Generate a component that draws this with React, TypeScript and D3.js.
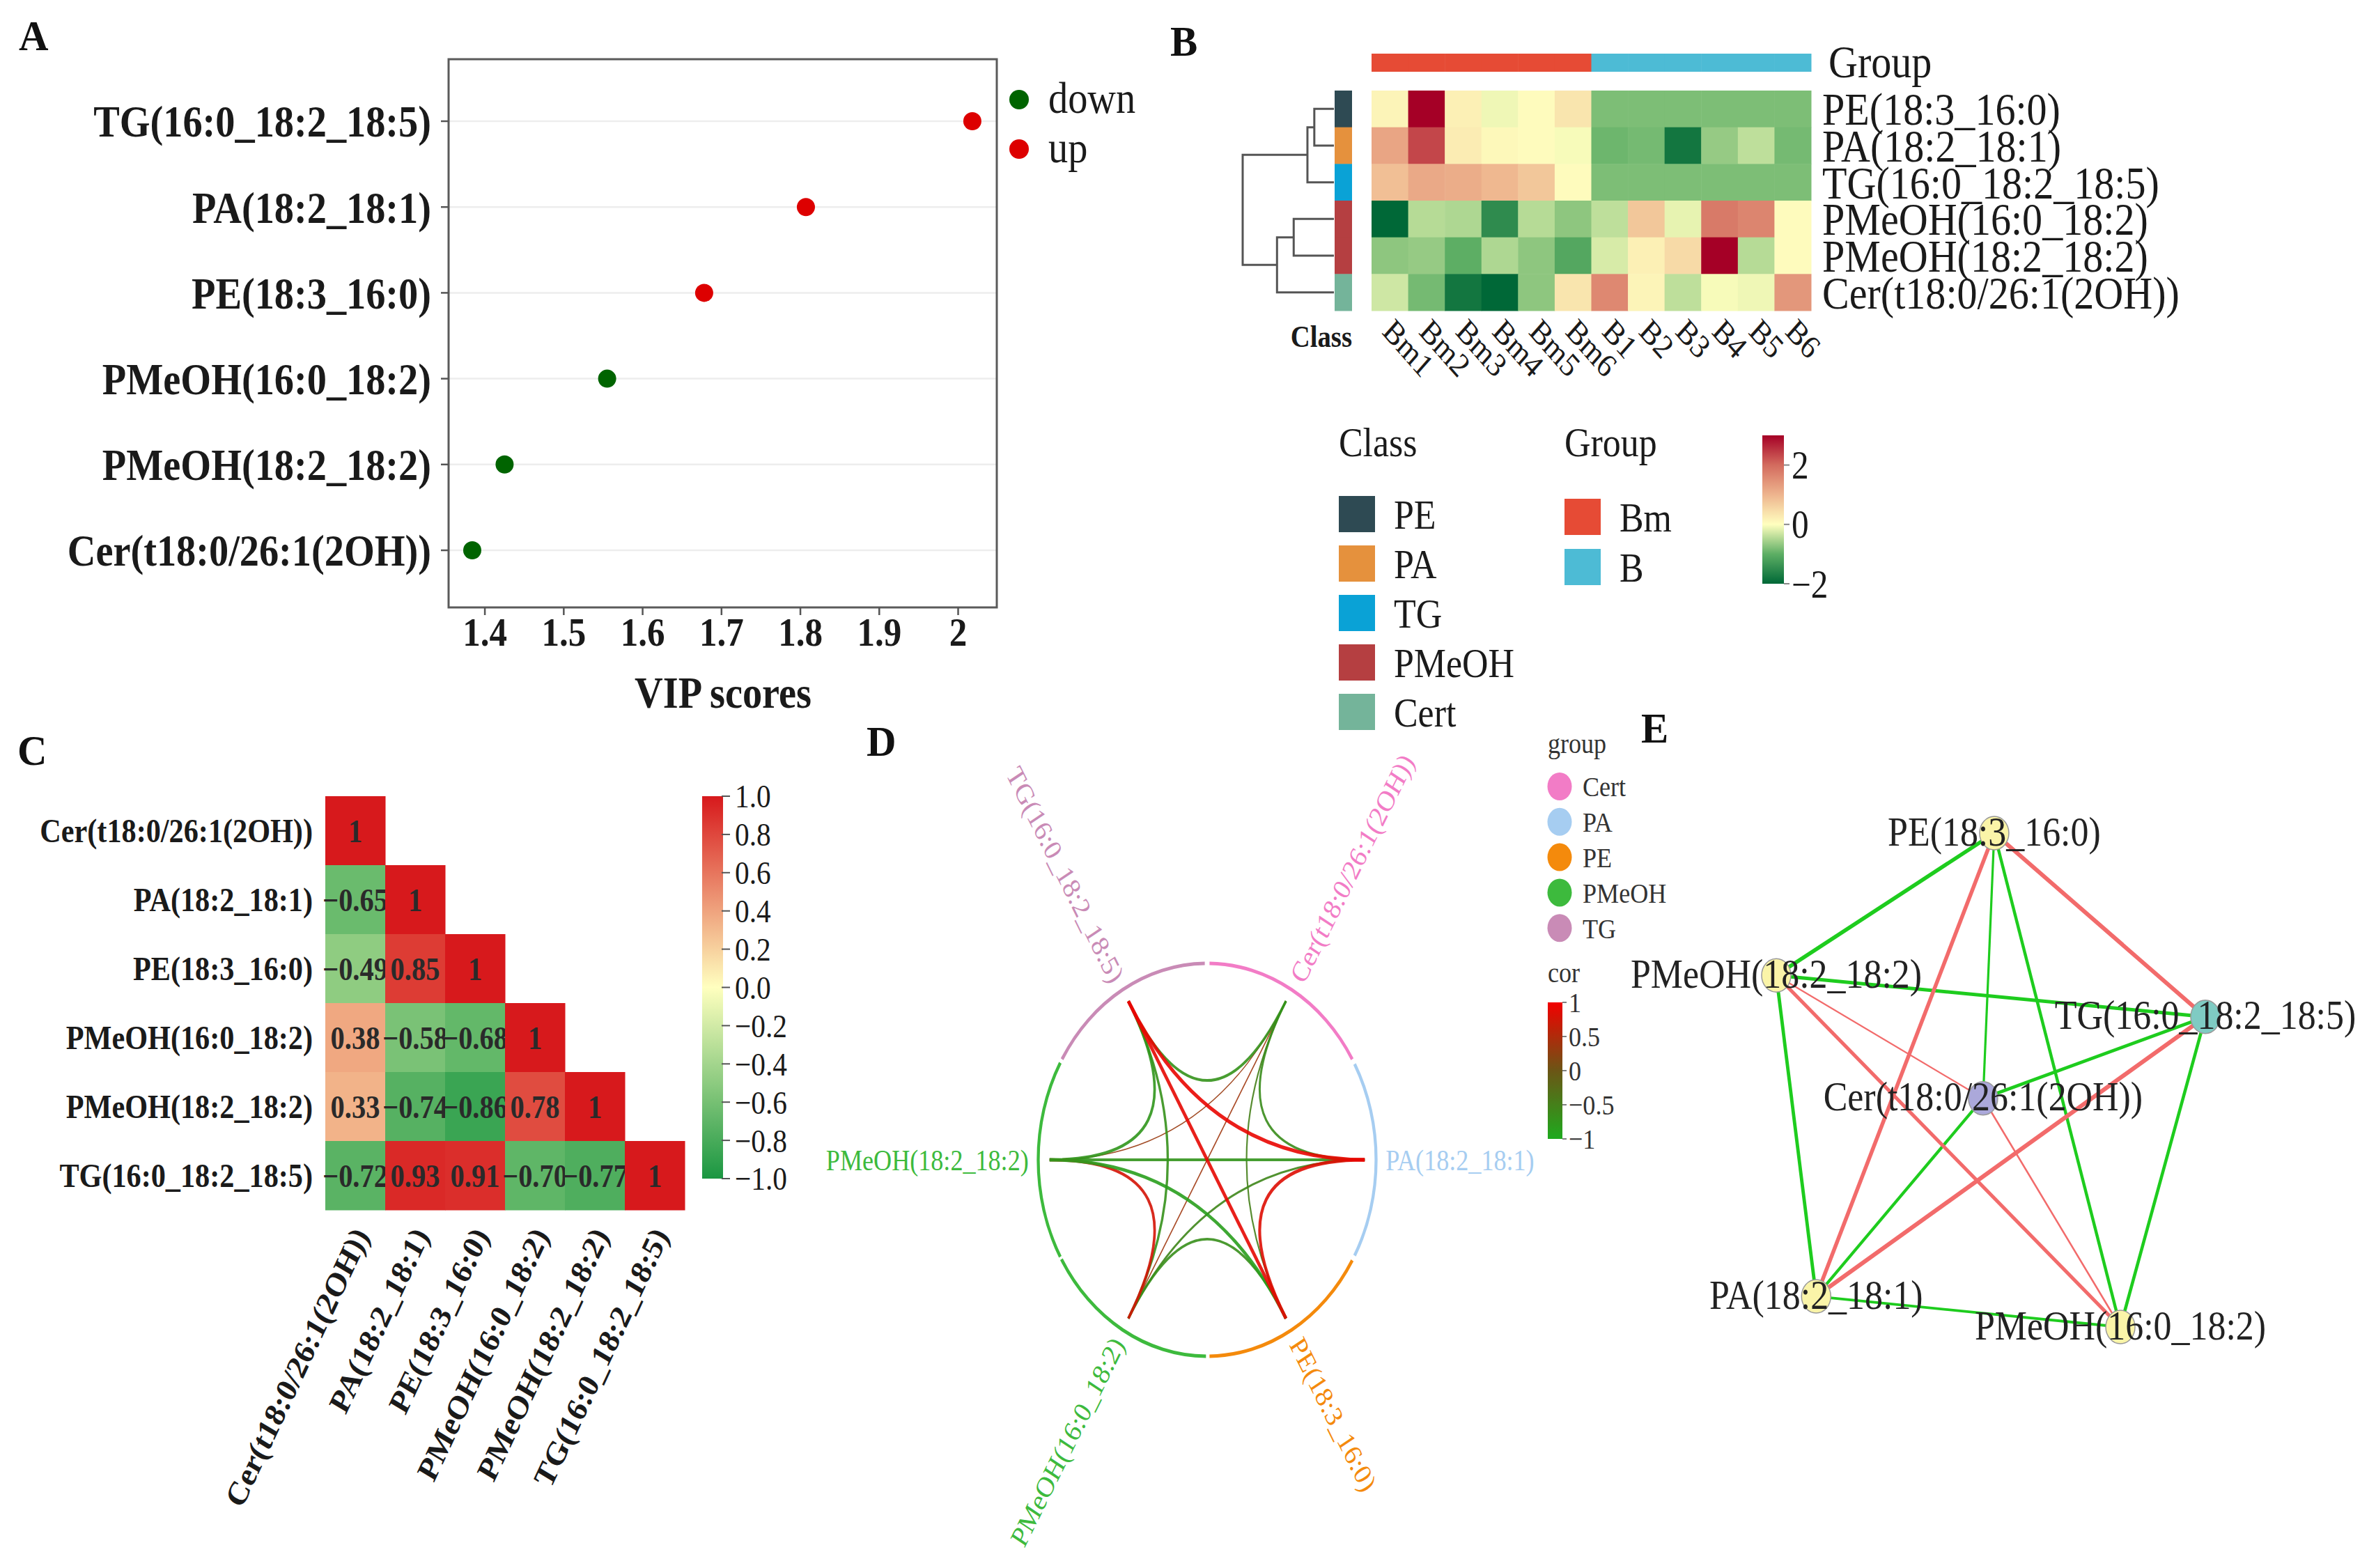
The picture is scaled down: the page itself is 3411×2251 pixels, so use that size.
import React from "react";
import * as d3 from "d3";

const FONT = '"Liberation Serif", "Times New Roman", Times, serif';
const SX = 0.88;

// ---------- Panel A: VIP scores ----------
const vipNames = ["TG(16:0_18:2_18:5)", "PA(18:2_18:1)", "PE(18:3_16:0)", "PMeOH(16:0_18:2)", "PMeOH(18:2_18:2)", "Cer(t18:0/26:1(2OH))"];
const vipScores = [2.018, 1.807, 1.678, 1.555, 1.425, 1.384];
const vipDirection = ["up", "up", "up", "down", "down", "down"];
const vipTicks = [1.4, 1.5, 1.6, 1.7, 1.8, 1.9, 2.0];
const vipLegend = ["down", "up"];
const vipColors = { down: "#006400", up: "#DD0000" } as Record<string, string>;

// ---------- Panel B: heatmap ----------
const heatRows = ["PE(18:3_16:0)", "PA(18:2_18:1)", "TG(16:0_18:2_18:5)", "PMeOH(16:0_18:2)", "PMeOH(18:2_18:2)", "Cer(t18:0/26:1(2OH))"];
const heatRowClass = ["PE", "PA", "TG", "PMeOH", "PMeOH", "Cert"];
const heatSamples = ["Bm1", "Bm2", "Bm3", "Bm4", "Bm5", "Bm6", "B1", "B2", "B3", "B4", "B5", "B6"];
const heatSampleGroup = ["Bm", "Bm", "Bm", "Bm", "Bm", "Bm", "B", "B", "B", "B", "B", "B"];
const zPE = [0.15, 3.0, 0.2, -0.1, 0.05, 0.35, -0.8, -0.8, -0.8, -0.8, -0.8, -0.8];
const zPA = [1.2, 2.35, 0.25, 0.1, 0.05, -0.05, -0.9, -0.85, -1.8, -0.65, -0.4, -0.85];
const zTG = [0.85, 1.15, 1.1, 0.95, 0.75, 0.05, -0.8, -0.8, -0.8, -0.8, -0.8, -0.8];
const zPMeOH16 = [-2.1, -0.45, -0.5, -1.5, -0.45, -0.7, -0.4, 0.75, -0.15, 1.8, 1.65, 0.05];
const zPMeOH18 = [-0.7, -0.65, -1.0, -0.5, -0.7, -1.1, -0.25, 0.2, 0.5, 3.0, -0.45, 0.05];
const zCer = [-0.3, -0.85, -1.8, -2.0, -0.7, 0.35, 1.6, 0.15, -0.4, -0.05, -0.1, 1.4];
const heatValues = [zPE, zPA, zTG, zPMeOH16, zPMeOH18, zCer];
const classNames = ["PE", "PA", "TG", "PMeOH", "Cert"];
const classColors = ["#2E4A53", "#E5913D", "#0AA2D6", "#B53F41", "#74B49A"];
const groupNames = ["Bm", "B"];
const groupColors = ["#E64B35", "#4DBBD5"];
const heatTicks = [2, 0, -2];
const heatTickLabels = ["2", "0", "\u22122"];
const dendroA = ["r0", "m0", "r3", "m2", "m1"];
const dendroB = ["r1", "r2", "r4", "r5", "m3"];
const dendroH = [1.0, 1.35, 2.05, 2.9, 4.65];

// ---------- Panel C: correlation ----------
const corNames = ["Cer(t18:0/26:1(2OH))", "PA(18:2_18:1)", "PE(18:3_16:0)", "PMeOH(16:0_18:2)", "PMeOH(18:2_18:2)", "TG(16:0_18:2_18:5)"];
const corCer = [1];
const corPA = [-0.65, 1];
const corPE = [-0.49, 0.85, 1];
const corPM16 = [0.38, -0.58, -0.68, 1];
const corPM18 = [0.33, -0.74, -0.86, 0.78, 1];
const corTG = [-0.72, 0.93, 0.91, -0.7, -0.77, 1];
const corRows = [corCer, corPA, corPE, corPM16, corPM18, corTG];
const corTicks = [1, 0.8, 0.6, 0.4, 0.2, 0, -0.2, -0.4, -0.6, -0.8, -1];

// ---------- Panel D: chord ----------
const chordGroupOf = ["Cert", "PA", "PE", "PMeOH", "PMeOH", "TG"];
const chordAngles = [60, 0, -60, 240, 180, 120];
const chordGroupNames = ["Cert", "PA", "PE", "PMeOH", "TG"];
const chordGroupColors = ["#F27CC6", "#A6CDF1", "#F48A0C", "#3DBA3D", "#C98BB6"];
const chordCorTicks = [1, 0.5, 0, -0.5, -1];

// ---------- Panel E: network ----------
const netX = [0.482, 0.093, 0.508, 0.802, 0, 1];
const netY = [0.537, 0.938, 0, 1, 0.288, 0.372];
const netFill = ["#ABA8DA", "#FAF4A8", "#FAF4A8", "#FAF4A8", "#FAF4A8", "#7FCBC3"];

const panelLetters = ["A", "B", "C", "D", "E"];

type TP = {
  x: number; y: number; rot?: number; sx?: number; size: number; weight?: string | number;
  anchor?: string; fill?: string; dy?: string; children: React.ReactNode;
};
function T({ x, y, rot = 0, sx = SX, size, weight = "normal", anchor = "start", fill = "#1a1a1a", dy, children }: TP) {
  return (
    <text transform={`translate(${x},${y}) scale(${sx},1) rotate(${rot})`} fontSize={size}
      fontWeight={weight} textAnchor={anchor as any} fill={fill} dy={dy}>
      {children}
    </text>
  );
}

function corValue(i: number, j: number) {
  return i >= j ? corRows[i][j] : corRows[j][i];
}

export default function App() {
  // ----- A -----
  const xA = d3.scaleLinear().domain([1.354, 2.049]).range([644, 1431]);
  const yA = d3.scalePoint<string>().domain(vipNames).range([174, 790]);

  // ----- B -----
  const xB = d3.scaleBand<string>().domain(heatSamples).range([1969, 2600]);
  const yB = d3.scaleBand<string>().domain(heatRows).range([130, 446]);
  const heatColor = d3.scaleLinear<string>()
    .domain([-2, -1, 0, 1, 2, 3])
    .range(["#006837", "#5DAE64", "#FFFFBF", "#EEB48E", "#D36B5E", "#A50026"])
    .clamp(true);
  const classColor = d3.scaleOrdinal<string, string>().domain(classNames).range(classColors);
  const groupColor = d3.scaleOrdinal<string, string>().domain(groupNames).range(groupColors);
  const heatLegY = d3.scaleLinear().domain([-2, 3]).range([838, 625]);
  const dendroX = d3.scaleLinear().domain([0, 4.65]).range([1915, 1784]);
  const dnodes: Record<string, { x: number; y: number }> = {};
  heatRows.forEach((r, i) => (dnodes["r" + i] = { x: dendroX(0), y: (yB(r) as number) + yB.bandwidth() / 2 }));
  const dendroPaths: string[] = [];
  dendroH.forEach((h, i) => {
    const a = dnodes[dendroA[i]];
    const b = dnodes[dendroB[i]];
    const x = dendroX(h);
    dendroPaths.push(`M${a.x},${a.y}H${x}V${b.y}H${b.x}`);
    dnodes["m" + i] = { x, y: (a.y + b.y) / 2 };
  });

  // ----- C -----
  const xC = d3.scaleBand<string>().domain(corNames).range([467, 983]);
  const yC = d3.scaleBand<string>().domain(corNames).range([1143, 1737]);
  const corColor = d3.scaleLinear<string>().domain([-1, 0, 1]).range(["#1A9641", "#FFFFBF", "#D7191C"]);
  const corLegY = d3.scaleLinear().domain([-1, 1]).range([1692, 1143]);

  // ----- D -----
  const chordCol = d3.scaleLinear<string>().domain([-1, 0, 1]).range(["#1EAA1E", "#6B5515", "#F20000"]);
  const chordW = d3.scaleLinear().domain([0.3, 1]).range([1.3, 5.8]);
  const groupColD = d3.scaleOrdinal<string, string>().domain(chordGroupNames).range(chordGroupColors);
  const R_ARC = 282, R_CH = 263, R_LAB = 298;
  const arcGen = d3.arc<any>().innerRadius(R_ARC - 2.5).outerRadius(R_ARC + 2.5);
  const rad = (a: number) => (a * Math.PI) / 180;
  const ptD = (a: number, r: number) => [r * Math.cos(rad(a)), -r * Math.sin(rad(a))];
  const pairs: { i: number; j: number; c: number }[] = [];
  for (let i = 0; i < corNames.length; i++)
    for (let j = i + 1; j < corNames.length; j++) pairs.push({ i, j, c: corValue(i, j) });
  const sortedPairs = [...pairs].sort((a, b) => Math.abs(a.c) - Math.abs(b.c));
  const corLegD = d3.scaleLinear().domain([-1, 1]).range([1635, 1439]);

  // ----- E -----
  const xE = d3.scaleLinear().domain([0, 1]).range([2550, 3166]);
  const yE = d3.scaleLinear().domain([0, 1]).range([1196, 1905]);
  const edgeW = d3.scaleLinear().domain([0.3, 1]).range([2, 6.5]);

  const letterPos = [[27, 72], [1680, 80], [25, 1098], [1244, 1085], [2356, 1066]];

  const gradStops = (scale: (v: number) => string, lo: number, hi: number) =>
    d3.range(0, 1.0001, 0.05).map((t) => (
      <stop key={t} offset={`${t * 100}%`} stopColor={scale(hi - t * (hi - lo))} />
    ));

  return (
    <svg width={3411} height={2251} style={{ position: "absolute", left: 0, top: 0, background: "#fff" }} fontFamily={FONT}>
      <defs>
        <linearGradient id="gradB" x1="0" y1="0" x2="0" y2="1">{gradStops(heatColor, -2, 3)}</linearGradient>
        <linearGradient id="gradC" x1="0" y1="0" x2="0" y2="1">{gradStops(corColor, -1, 1)}</linearGradient>
        <linearGradient id="gradD" x1="0" y1="0" x2="0" y2="1">{gradStops(chordCol, -1, 1)}</linearGradient>
      </defs>
      <rect width={3411} height={2251} fill="#fff" />

      {panelLetters.map((l, i) => (
        <T key={"pl" + l} x={letterPos[i][0]} y={letterPos[i][1]} size={62} sx={0.95} weight="bold" fill="#111">{l}</T>
      ))}

      {/* ================= Panel A ================= */}
      {vipNames.map((n) => (
        <line key={"g" + n} x1={644} x2={1431} y1={yA(n)} y2={yA(n)} stroke="#EDEDED" strokeWidth={2.5} />
      ))}
      <rect x={644} y={85} width={787} height={787} fill="none" stroke="#5a5a5a" strokeWidth={3} />
      {vipNames.map((n) => (
        <g key={"yl" + n}>
          <line x1={633} x2={644} y1={yA(n)} y2={yA(n)} stroke="#555" strokeWidth={2.5} />
          <T x={619} y={yA(n) as number} size={64} weight="bold" anchor="end" dy="0.35em">{n}</T>
        </g>
      ))}
      {vipTicks.map((t) => (
        <g key={"xt" + t}>
          <line x1={xA(t)} x2={xA(t)} y1={872} y2={883} stroke="#555" strokeWidth={2.5} />
          <T x={xA(t)} y={927} size={58} weight="bold" anchor="middle">{d3.format("~g")(t)}</T>
        </g>
      ))}
      <T x={1038} y={1016} size={64} weight="bold" anchor="middle">VIP scores</T>
      {vipNames.map((n, i) => (
        <circle key={"pt" + n} cx={xA(vipScores[i])} cy={yA(n)} r={13} fill={vipColors[vipDirection[i]]} />
      ))}
      {vipLegend.map((l, i) => (
        <g key={"lg" + l}>
          <circle cx={1463} cy={143 + i * 71} r={14} fill={vipColors[l]} />
          <T x={1505} y={143 + i * 71} size={64} dy="0.3em">{l}</T>
        </g>
      ))}

      {/* ================= Panel B ================= */}
      {heatSamples.map((s, j) => (
        <rect key={"gb" + s} x={xB(s)} y={77} width={xB.bandwidth() + 0.5} height={26} fill={groupColor(heatSampleGroup[j])} />
      ))}
      <T x={2625} y={88} size={66} dy="0.35em">Group</T>
      {heatRows.map((r, i) => (
        <g key={"hr" + r}>
          <rect x={1916} y={yB(r)} width={25} height={yB.bandwidth() + 0.5} fill={classColor(heatRowClass[i])} />
          {heatSamples.map((s, j) => (
            <rect key={s} x={xB(s)} y={yB(r)} width={xB.bandwidth() + 0.5} height={yB.bandwidth() + 0.5}
              fill={heatColor(heatValues[i][j])} />
          ))}
          <T x={2616} y={(yB(r) as number) + yB.bandwidth() / 2} size={66} dy="0.35em">{r}</T>
        </g>
      ))}
      {dendroPaths.map((p, i) => (
        <path key={"dp" + i} d={p} fill="none" stroke="#555" strokeWidth={3} />
      ))}
      <T x={1941} y={498} size={44} weight="bold" anchor="end">Class</T>
      {heatSamples.map((s) => (
        <T key={"cl" + s} x={(xB(s) as number) + xB.bandwidth() / 2 - 2} y={466} rot={45} size={48} dy="0.35em">{s}</T>
      ))}
      {/* legend B */}
      <T x={1922} y={655} size={59}>Class</T>
      {classNames.map((c, i) => (
        <g key={"lc" + c}>
          <rect x={1922} y={712 + i * 71} width={52} height={52} fill={classColor(c)} />
          <T x={2001} y={738 + i * 71} size={59} dy="0.35em">{c}</T>
        </g>
      ))}
      <T x={2246} y={655} size={59}>Group</T>
      {groupNames.map((g, i) => (
        <g key={"lgr" + g}>
          <rect x={2246} y={716 + i * 72} width={52} height={52} fill={groupColor(g)} />
          <T x={2325} y={742 + i * 72} size={59} dy="0.35em">{g}</T>
        </g>
      ))}
      <rect x={2530} y={heatLegY(3)} width={31} height={heatLegY(-2) - heatLegY(3)} fill="url(#gradB)" />
      {heatTicks.map((t, i) => (
        <g key={"ht" + t}>
          <line x1={2561} x2={2569} y1={heatLegY(t)} y2={heatLegY(t)} stroke="#888" strokeWidth={2} />
          <T x={2572} y={heatLegY(t)} size={56} dy="0.35em">{heatTickLabels[i]}</T>
        </g>
      ))}

      {/* ================= Panel C ================= */}
      {corNames.map((rn, i) => (
        <g key={"cr" + rn}>
          {corRows[i].map((v, j) => (
            <g key={j}>
              <rect x={xC(corNames[j])} y={yC(rn)} width={xC.bandwidth() + 0.5} height={yC.bandwidth() + 0.5} fill={corColor(v)} />
              <T x={(xC(corNames[j]) as number) + xC.bandwidth() / 2} y={(yC(rn) as number) + yC.bandwidth() / 2}
                size={46} weight="bold" anchor="middle" dy="0.35em" fill="#2a2a2a">
                {v === 1 ? "1" : d3.format(".2f")(v)}
              </T>
            </g>
          ))}
          <T x={449} y={(yC(rn) as number) + yC.bandwidth() / 2} size={48} weight="bold" anchor="end" dy="0.35em">{rn}</T>
          <T x={(xC(rn) as number) + xC.bandwidth() / 2 + 8} y={1766} rot={-62} size={48} weight="bold" anchor="end" dy="0.35em">{rn}</T>
        </g>
      ))}
      <rect x={1008} y={1143} width={30} height={549} fill="url(#gradC)" />
      {corTicks.map((t) => (
        <g key={"ct" + t}>
          <line x1={1036} x2={1048} y1={corLegY(t)} y2={corLegY(t)} stroke="#555" strokeWidth={2} />
          <T x={1055} y={corLegY(t)} size={47} dy="0.35em">{d3.format(".1f")(t).replace("-", "\u2212")}</T>
        </g>
      ))}

      {/* ================= Panel D ================= */}
      <g transform="translate(1733,1665) scale(0.86,1)">
        {corNames.map((n, i) => {
          const a = chordAngles[i];
          const gap = chordGroupOf[i] === "PMeOH" ? 0.4 : 0.8;
          const d = arcGen({ startAngle: rad(90 - a - 30 + gap), endAngle: rad(90 - a + 30 - gap) });
          return <path key={"arc" + n} d={d as string} fill={groupColD(chordGroupOf[i])} />;
        })}
        {sortedPairs.map((p) => {
          const [x1, y1] = ptD(chordAngles[p.i], R_CH);
          const [x2, y2] = ptD(chordAngles[p.j], R_CH);
          const path = d3.path();
          path.moveTo(x1, y1);
          path.quadraticCurveTo(0, 0, x2, y2);
          return (
            <path key={`ch${p.i}-${p.j}`} d={path.toString()} fill="none" stroke={chordCol(p.c)}
              strokeWidth={chordW(Math.abs(p.c))} strokeOpacity={0.9} />
          );
        })}
        {corNames.map((n, i) => {
          const a = chordAngles[i];
          const [x, y] = ptD(a, R_LAB);
          const right = Math.cos(rad(a)) > 0.01;
          const rot = right ? -a : 180 - a;
          return (
            <text key={"dl" + n} transform={`translate(${x},${y}) rotate(${rot})`} fontSize={42}
              textAnchor={right ? "start" : "end"} dy="0.35em" fill={groupColD(chordGroupOf[i])}>{n}</text>
          );
        })}
      </g>
      {/* legend D */}
      <T x={2222} y={1081} size={41} fill="#333">group</T>
      {chordGroupNames.map((g, i) => (
        <g key={"dg" + g}>
          <ellipse cx={2239} cy={1129 + i * 50.8} rx={17.5} ry={20} fill={groupColD(g)} />
          <T x={2272} y={1129 + i * 50.8} size={41} dy="0.35em" fill="#333">{g}</T>
        </g>
      ))}
      <T x={2222} y={1410} size={41} fill="#333">cor</T>
      <rect x={2222} y={1439} width={21} height={196} fill="url(#gradD)" />
      {chordCorTicks.map((t) => (
        <g key={"dt" + t}>
          <line x1={2243} x2={2249} y1={corLegD(t)} y2={corLegD(t)} stroke="#555" strokeWidth={1.5} />
          <T x={2252} y={corLegD(t)} size={41} dy="0.35em" fill="#333">{d3.format("~g")(t)}</T>
        </g>
      ))}

      {/* ================= Panel E ================= */}
      {sortedPairs.map((p) => (
        <line key={`e${p.i}-${p.j}`} x1={xE(netX[p.i])} y1={yE(netY[p.i])} x2={xE(netX[p.j])} y2={yE(netY[p.j])}
          stroke={p.c > 0 ? "#F26B6B" : "#1ECC1E"} strokeWidth={edgeW(Math.abs(p.c))} />
      ))}
      {corNames.map((n, i) => (
        <ellipse key={"en" + n} cx={xE(netX[i])} cy={yE(netY[i])} rx={21} ry={24} fill={netFill[i]} stroke="#999" strokeWidth={1.5} />
      ))}
      {corNames.map((n, i) => (
        <T key={"et" + n} x={xE(netX[i])} y={yE(netY[i])} size={59} anchor="middle" dy="0.3em" fill="#222">{n}</T>
      ))}
    </svg>
  );
}
